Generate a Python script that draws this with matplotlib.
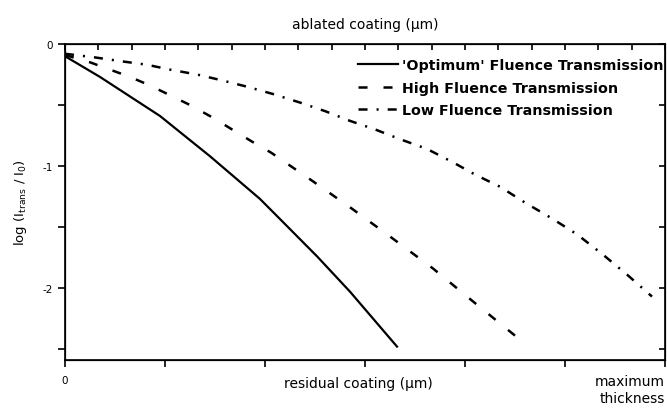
import matplotlib
matplotlib.use("Agg")
import matplotlib.pyplot as plt
import numpy as np

plt.rcParams['font.family'] = ['DejaVu Sans']
plt.rcParams['lines.scale_dashes'] = False

# residual coating (arbitrary units, bottom ticks every 1) vs log transmission
opt_x = [0.0, 0.35, 0.95, 1.45, 1.95, 2.12, 2.52, 2.85, 3.32]
opt_y = [-0.10, -0.27, -0.59, -0.92, -1.27, -1.41, -1.74, -2.03, -2.48]

high_x = [0.0, 0.25, 0.45, 0.65, 0.85, 1.05, 1.25, 1.47, 1.65, 1.87, 2.06,
          2.47, 2.87, 3.27, 3.68, 4.08, 4.50]
high_y = [-0.09, -0.15, -0.21, -0.27, -0.34, -0.42, -0.50, -0.60, -0.69, -0.80,
          -0.89, -1.12, -1.35, -1.59, -1.84, -2.11, -2.39]

low_x = [0.0, 0.30, 0.55, 0.82, 1.05, 1.32, 1.58, 1.82, 2.08, 2.35, 2.60, 2.85,
         3.10, 3.35, 3.62, 3.88, 4.10, 4.35, 4.60, 4.87, 5.12, 5.37, 5.62, 5.87]
low_y = [-0.08, -0.11, -0.14, -0.17, -0.21, -0.25, -0.30, -0.35, -0.41, -0.48,
         -0.55, -0.63, -0.70, -0.78, -0.86, -0.97, -1.07, -1.17, -1.30, -1.43,
         -1.56, -1.72, -1.89, -2.07]

labels = ["'Optimum' Fluence Transmission", "High Fluence Transmission",
          "Low Fluence Transmission"]

fig = plt.figure(figsize=(6.67, 4.10), dpi=100)
ax = fig.add_axes([65 / 667, 1 - 361 / 410, 600 / 667, 316 / 410])

ax.plot(opt_x, opt_y, color='black', lw=1.6, label=labels[0])
ax.plot(high_x, high_y, color='black', lw=1.8, dashes=(6.5, 11.5), label=labels[1])
ax.plot(low_x, low_y, color='black', lw=1.8, dashes=(6.5, 6.5, 1.5, 6.5), label=labels[2])

ax.set_xlim(0, 6.0)
ax.set_ylim(-2.59, 0)

ax.set_xticks(range(7))
ax.set_xticklabels(['0', '', '', '', '', '', ''], fontsize=7.5)
ax.set_yticks([0, -1, -2])
ax.set_yticklabels(['0', '-1', '-2'], fontsize=7.5)
ax.set_yticks([-0.5, -1.5, -2.5], minor=True)
ax.tick_params(axis='both', which='both', direction='out', length=5, width=1.2)
ax.tick_params(axis='x', pad=6)
for sp in ax.spines.values():
    sp.set_linewidth(1.2)

ax.set_ylabel('log (I$_{\\mathrm{trans}}$ / I$_0$)', fontsize=9.5, labelpad=10)

ax.text(2.93, -2.78, 'residual coating (µm)', fontsize=10, ha='center', va='center')
ax.text(6.0, -2.83, 'maximum\nthickness', fontsize=10, ha='right', va='center',
        linespacing=1.3, clip_on=False)

# right ticks inward
ax2 = ax.twinx()
ax2.set_ylim(ax.get_ylim())
ax2.set_yticks(np.arange(0, -2.6, -0.5))
ax2.set_yticklabels([])
ax2.tick_params(axis='y', direction='in', length=4, width=1.2)

# top axis (ablated coating)
ax3 = ax.twiny()
ax3.set_xlim(0, 18)
ax3.set_xticks(range(19))
ax3.set_xticklabels([])
ax3.tick_params(axis='x', direction='in', length=4, width=1.2)
ax3.set_xlabel('ablated coating (µm)', fontsize=10, labelpad=8)

leg = ax.legend(loc='upper right', bbox_to_anchor=(1.0, 0.96), frameon=False,
                prop={'weight': 'bold', 'size': 10.3},
                handlelength=2.8, handletextpad=0.25, labelspacing=0.6,
                borderaxespad=0.0, borderpad=0.1)

fig.savefig('out.png', dpi=100)
